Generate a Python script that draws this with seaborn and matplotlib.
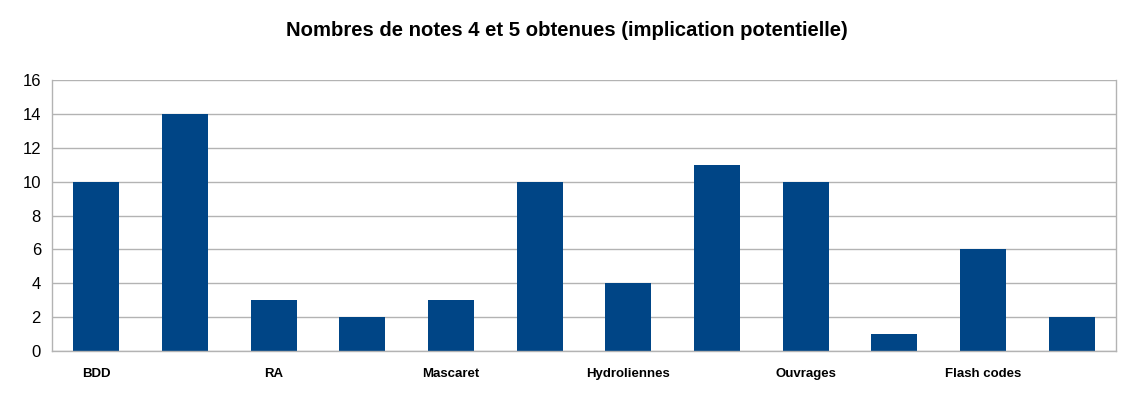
import numpy as np
import pandas as pd
import matplotlib
matplotlib.use("Agg")
import matplotlib.pyplot as plt
import seaborn as sns

# data
projects = ["BDD", "", "RA", "", "Mascaret", "", "Hydroliennes", "", "Ouvrages", "", "Flash codes", ""]
counts = [10, 14, 3, 2, 3, 10, 4, 11, 10, 1, 6, 2]

df = pd.DataFrame({"slot": [str(i) for i in range(len(counts))], "count": counts})

sns.set_style("white")
plt.rcParams["font.family"] = ["Liberation Sans", "DejaVu Sans"]
plt.rcParams["text.color"] = "black"
plt.rcParams["xtick.color"] = "black"
plt.rcParams["ytick.color"] = "black"

fig = plt.figure(figsize=(11.33, 4.18), dpi=100)
ax = fig.add_axes([52 / 1133, 67 / 418, (1116 - 52) / 1133, (351 - 80) / 418])

sns.barplot(data=df, x="slot", y="count", color="#004586", width=0.52,
            saturation=1, linewidth=0, ax=ax)

ax.set_ylim(0, 16)
ax.set_xlim(-0.5, len(counts) - 0.5)
ax.set_yticks(range(0, 17, 2))
ax.yaxis.grid(True, color="#b3b3b3", linewidth=1)
ax.set_axisbelow(True)
ax.tick_params(axis="y", length=0, labelsize=12, pad=8, labelcolor="black")

# tick marks on category boundaries, labels centred under bars
ax.set_xticks(np.arange(-0.5, len(counts), 1))
ax.set_xticklabels([])
ax.set_xticks(np.arange(len(counts)), minor=True)
ax.set_xticklabels(projects, minor=True, fontweight="bold", fontsize=9.5)
ax.tick_params(axis="x", which="major", length=5, color="#b3b3b3", width=1, direction="out")
ax.tick_params(axis="x", which="minor", length=0, pad=12, labelcolor="black")

for side in ["left", "right", "bottom"]:
    ax.spines[side].set_color("#b3b3b3")
    ax.spines[side].set_linewidth(1)
ax.spines["top"].set_visible(False)

ax.set_xlabel("")
ax.set_ylabel("")
fig.suptitle("Nombres de notes 4 et 5 obtenues (implication potentielle)",
             y=1 - 31 / 418, va="center", fontsize=14.6, fontweight="bold", color="black")

fig.savefig("out.png", dpi=100)
